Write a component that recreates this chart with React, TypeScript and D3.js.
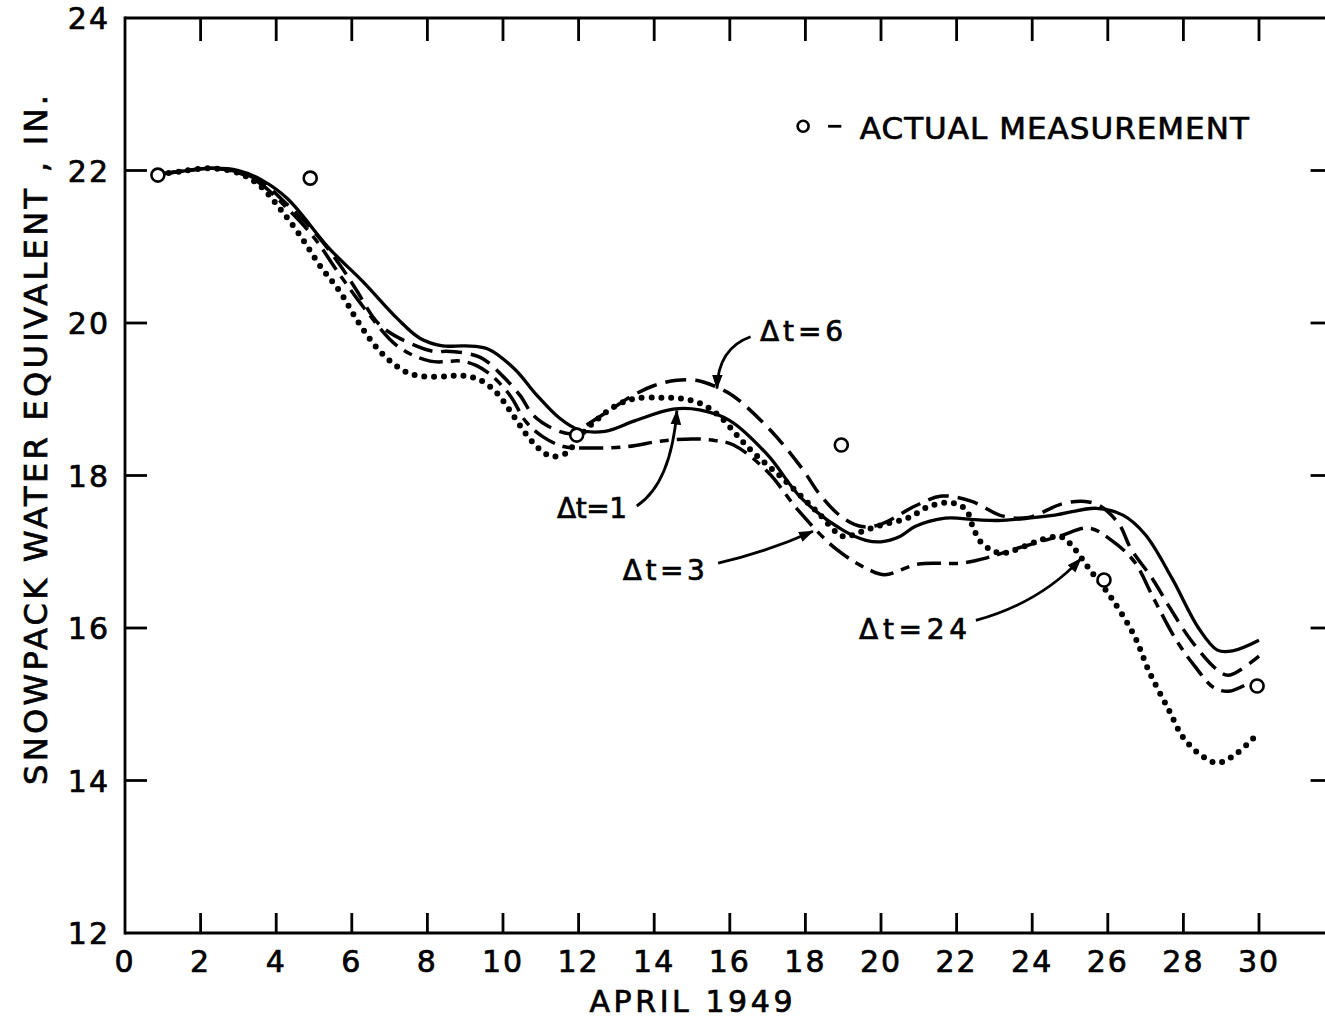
import React from "react";
import * as d3 from "d3";

// ---- Data (day of April 1949, snowpack water equivalent in inches) ----
const dayTicks = [0, 2, 4, 6, 8, 10, 12, 14, 16, 18, 20, 22, 24, 26, 28, 30];
const valueTicks = [12, 14, 16, 18, 20, 22, 24];

const dt1: [number, number][] = [
  [0.9, 21.95], [1.5, 21.99], [2.3, 22.03], [3, 22.0], [3.6, 21.88], [4.3, 21.63],
  [5.4, 20.98], [6.3, 20.54], [7.2, 20.06], [7.8, 19.8], [8.4, 19.7], [9, 19.7],
  [9.6, 19.66], [10.3, 19.4], [10.9, 19.05], [11.5, 18.75], [12, 18.6], [12.7, 18.58],
  [13.5, 18.72], [14.5, 18.87], [15.2, 18.86], [16, 18.72], [17, 18.27], [17.9, 17.7],
  [19, 17.28], [19.6, 17.15], [20, 17.13], [20.5, 17.2], [20.9, 17.33], [21.7, 17.44],
  [22.5, 17.42], [23.1, 17.41], [23.9, 17.44], [24.6, 17.48], [25.7, 17.57], [26.4, 17.48],
  [27, 17.22], [27.7, 16.65], [28.4, 16.0], [28.9, 15.71], [29.3, 15.7], [30, 15.84],
];

const dt6: [number, number][] = [
  [0.9, 21.95], [1.5, 21.99], [2.3, 22.03], [3, 21.98], [3.6, 21.85], [4.3, 21.55],
  [5, 21.2], [5.7, 20.75], [6.1, 20.45], [6.75, 19.97], [7.7, 19.7], [8.25, 19.62],
  [8.5, 19.63], [9.4, 19.55], [10, 19.3], [10.45, 19.05], [10.8, 18.79], [11.3, 18.62],
  [11.8, 18.55], [12.2, 18.66], [12.9, 18.88], [13.4, 19.04], [14, 19.18], [14.6, 19.25],
  [15.2, 19.24], [15.6, 19.17], [16.1, 19.04], [17.1, 18.58], [17.9, 18.1], [18.4, 17.74],
  [19, 17.44], [19.5, 17.33], [20, 17.36], [20.9, 17.6], [21.6, 17.73], [22.4, 17.66],
  [23.2, 17.47], [23.9, 17.45], [24.8, 17.63], [25.4, 17.66], [25.8, 17.6], [26.3, 17.36],
  [26.6, 17.05], [27.2, 16.63], [27.65, 16.26], [28.2, 15.84], [28.9, 15.45], [29.2, 15.38],
  [30, 15.63],
];

const dt3: [number, number][] = [
  [0.9, 21.95], [1.5, 21.99], [2.3, 22.03], [3, 21.97], [3.6, 21.82], [4.3, 21.5],
  [5, 21.12], [5.7, 20.62], [6.4, 20.15], [7.2, 19.7], [8.07, 19.5], [8.9, 19.5],
  [9.3, 19.44], [9.7, 19.31], [10.2, 19.04], [10.6, 18.71], [11.05, 18.51], [11.6, 18.38],
  [12.2, 18.36], [13.3, 18.38], [14.15, 18.45], [15, 18.48], [15.6, 18.46], [16.1, 18.4],
  [17, 18.05], [17.8, 17.55], [18.8, 17.04], [19.7, 16.76], [20.1, 16.7], [21, 16.84],
  [22.1, 16.85], [22.8, 16.92], [23.5, 17.03], [24.7, 17.2], [25.5, 17.31], [26.1, 17.15],
  [26.7, 16.87], [27.2, 16.4], [27.8, 15.85], [28.3, 15.5], [28.8, 15.22], [29.2, 15.17],
  [29.7, 15.27],
];

const dt24: [number, number][] = [
  [0.9, 21.95], [1.5, 21.99], [2.25, 22.03], [3.04, 21.96], [3.57, 21.8], [4.1, 21.5],
  [4.63, 21.15], [5.16, 20.75], [5.7, 20.4], [6.2, 19.99], [6.8, 19.6], [7.46, 19.35],
  [7.9, 19.3], [8.5, 19.3], [8.95, 19.31], [9.4, 19.25], [9.84, 19.08], [10.2, 18.84],
  [10.6, 18.55], [11, 18.33], [11.3, 18.25], [11.7, 18.3], [12, 18.5], [12.5, 18.74],
  [13, 18.92], [13.5, 19.01], [14.2, 19.02], [14.7, 19.01], [15.2, 18.95], [15.7, 18.79],
  [16.5, 18.36], [17.4, 17.96], [18.3, 17.53], [19, 17.2], [19.4, 17.25], [20, 17.35],
  [20.7, 17.44], [21.3, 17.6], [21.9, 17.64], [22.25, 17.55], [22.45, 17.3], [22.65, 17.12],
  [22.9, 17.03], [23.2, 16.98], [24.4, 17.18], [24.8, 17.19], [25.1, 17.05], [25.5, 16.78],
  [26.1, 16.39], [26.7, 15.9], [27.1, 15.42], [27.6, 14.94], [28, 14.56], [28.5, 14.32],
  [28.9, 14.23], [29.4, 14.35], [29.9, 14.58],
];

const measurements: [number, number][] = [
  [0.87, 21.94], [4.9, 21.9], [11.95, 18.53], [18.95, 18.4], [25.9, 16.63], [29.95, 15.24],
];

// annotation labels and their arrows (in data units)
const annotationLabels = ["\u0394t=6", "\u0394t=1", "\u0394t=3", "\u0394t=24"];
const annotationAnchors: [number, number][] = [[16.8, 19.76], [11.43, 17.44], [13.17, 16.63], [19.42, 15.85]];
const annotationLengths = [83, 70, 82, 108];
const arrowStarts: [number, number][] = [[16.55, 19.82], [13.54, 17.6], [15.69, 16.85], [22.51, 16.1]];
const arrowControls: [number, number][] = [[15.69, 19.67], [14.45, 17.9], [17.0, 17.0], [24.2, 16.33]];
const arrowEnds: [number, number][] = [[15.66, 19.14], [14.6, 18.85], [18.2, 17.27], [25.29, 16.91]];

const FONT = "'DejaVu Sans', sans-serif";

export default function App() {
  const W = 1325;
  const H = 1021;
  const x = d3.scaleLinear().domain([0, 32]).range([125, 125 + 32 * 37.8]);
  const y = d3.scaleLinear().domain([12, 24]).range([933, 18]);

  const line = d3
    .line<[number, number]>()
    .x((d) => x(d[0]))
    .y((d) => y(d[1]))
    .curve(d3.curveCatmullRom.alpha(0.5));

  const left = x(0);
  const right = x(32);
  const top = y(24);
  const bottom = y(12);

  const series = [
    { data: dt1, dash: undefined, width: 3.3, cap: "butt" },
    { data: dt6, dash: "21 9", width: 3.5, cap: "butt" },
    { data: dt3, dash: "24 8 9 8", width: 3.5, cap: "butt" },
    { data: dt24, dash: "0 9.8", width: 6, cap: "round" },
  ];

  const textStroke = { stroke: "#000", strokeWidth: 0.7 };

  return (
    <svg
      width={W}
      height={H}
      viewBox={`0 0 ${W} ${H}`}
      style={{ position: "absolute", left: 0, top: 0, background: "#fff" }}
    >
      <defs>
        <marker
          id="arrow"
          viewBox="0 0 14 10"
          refX="13"
          refY="5"
          markerWidth="15"
          markerHeight="11"
          markerUnits="userSpaceOnUse"
          orient="auto"
        >
          <path d="M0,0 L14,5 L0,10 z" fill="#000" />
        </marker>
      </defs>
      <rect x={0} y={0} width={W} height={H} fill="#fff" />

      {/* frame */}
      <g stroke="#000" strokeWidth={2.8} fill="none">
        <line x1={left} y1={top} x2={right} y2={top} />
        <line x1={left} y1={top - 1.4} x2={left} y2={bottom + 1.4} />
        <line x1={left} y1={bottom} x2={right} y2={bottom} />
        <line x1={right} y1={top} x2={right} y2={bottom} />
      </g>

      {/* ticks */}
      <g stroke="#000" strokeWidth={2.8}>
        {dayTicks.filter((d) => d > 0).map((d) => (
          <g key={"xt" + d}>
            <line x1={x(d)} y1={top} x2={x(d)} y2={top + 23} />
            <line x1={x(d)} y1={bottom} x2={x(d)} y2={bottom - 20} />
          </g>
        ))}
        {valueTicks.filter((v) => v > 12 && v < 24).map((v) => (
          <g key={"yt" + v}>
            <line x1={left} y1={y(v)} x2={left + 22} y2={y(v)} />
            <line x1={right} y1={y(v)} x2={right - 24} y2={y(v)} />
          </g>
        ))}
      </g>

      {/* tick labels */}
      <g fontFamily={FONT} fontSize={30} fill="#000" {...textStroke}>
        {dayTicks.map((d) => (
          <text key={"xl" + d} x={x(d)} y={bottom + 39} textAnchor="middle" letterSpacing={2}>
            {d}
          </text>
        ))}
        {valueTicks.map((v) => (
          <text key={"yl" + v} x={left - 15} y={y(v) + 11} textAnchor="end" letterSpacing={2}>
            {v}
          </text>
        ))}
      </g>

      {/* axis titles */}
      <text
        x={691}
        y={1012}
        fontFamily={FONT}
        fontSize={30}
        textAnchor="middle"
        textLength={203}
        lengthAdjust="spacing"
        {...textStroke}
      >
        APRIL 1949
      </text>
      <text
        transform="translate(47,440) rotate(-90)"
        fontFamily={FONT}
        fontSize={32}
        textAnchor="middle"
        textLength={690}
        lengthAdjust="spacing"
        {...textStroke}
      >
        SNOWPACK WATER EQUIVALENT , IN.
      </text>

      {/* series */}
      {series.map((s, i) => (
        <path
          key={"s" + i}
          d={line(s.data) || ""}
          fill="none"
          stroke="#000"
          strokeWidth={s.width}
          strokeDasharray={s.dash}
          strokeLinecap={s.cap as any}
          strokeLinejoin="round"
        />
      ))}

      {/* measurements */}
      {measurements.map((m, i) => (
        <circle key={"m" + i} cx={x(m[0])} cy={y(m[1])} r={6.5} fill="#fff" stroke="#000" strokeWidth={2.6} />
      ))}

      {/* annotations */}
      {annotationLabels.map((t, i) => {
        const s = arrowStarts[i];
        const c = arrowControls[i];
        const e = arrowEnds[i];
        return (
          <g key={"a" + i}>
            <text
              x={x(annotationAnchors[i][0])}
              y={y(annotationAnchors[i][1])}
              fontFamily={FONT}
              fontSize={28}
              textLength={annotationLengths[i]}
              lengthAdjust="spacing"
              {...textStroke}
            >
              {t}
            </text>
            <path
              d={`M${x(s[0])},${y(s[1])} Q${x(c[0])},${y(c[1])} ${x(e[0])},${y(e[1])}`}
              fill="none"
              stroke="#000"
              strokeWidth={2.8}
              markerEnd="url(#arrow)"
            />
          </g>
        );
      })}

      {/* legend */}
      <circle cx={x(17.94)} cy={y(22.58)} r={5.5} fill="#fff" stroke="#000" strokeWidth={2.6} />
      <line x1={x(18.6)} y1={y(22.58)} x2={x(18.95)} y2={y(22.58)} stroke="#000" strokeWidth={2.8} />
      <text
        x={x(19.44)}
        y={y(22.41)}
        fontFamily={FONT}
        fontSize={31}
        textLength={389}
        lengthAdjust="spacing"
        {...textStroke}
      >
        ACTUAL MEASUREMENT
      </text>
    </svg>
  );
}
